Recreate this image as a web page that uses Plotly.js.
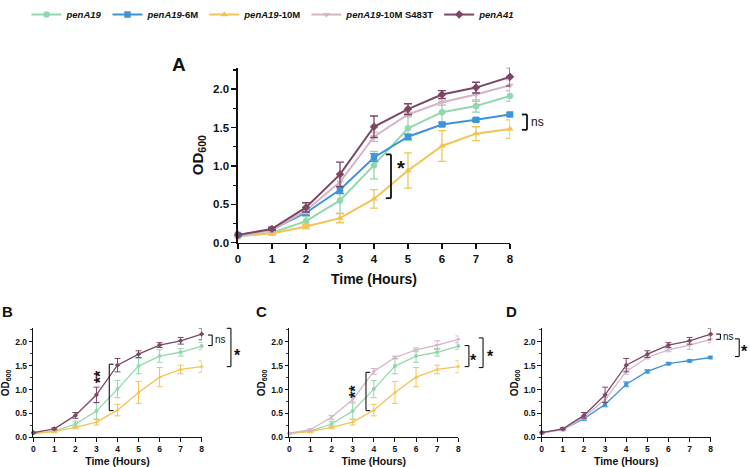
<!DOCTYPE html>
<html>
<head>
<meta charset="utf-8">
<script src="https://cdn.plot.ly/plotly-3.0.1.min.js"></script>
<style>html,body{margin:0;padding:0;background:#fff}#chart{width:750px;height:467px}</style>
</head>
<body>
<div id="chart"></div>
<script>
// ---------------- data ----------------
const hours = [0, 1, 2, 3, 4, 5, 6, 7, 8];

const penA19      = [0.08, 0.13, 0.28, 0.55, 1.01, 1.49, 1.70, 1.78, 1.91];
const penA19Err   = [0.01, 0.02, 0.06, 0.17, 0.18, 0.16, 0.13, 0.08, 0.07];

const penA19_6M    = [0.10, 0.17, 0.39, 0.69, 1.11, 1.38, 1.54, 1.60, 1.67];
const penA19_6MErr = [0.01, 0.02, 0.03, 0.05, 0.05, 0.03, 0.02, 0.02, 0.02];

const penA19_10M    = [0.09, 0.12, 0.21, 0.32, 0.57, 0.94, 1.26, 1.42, 1.48];
const penA19_10MErr = [0.01, 0.02, 0.03, 0.06, 0.12, 0.23, 0.20, 0.09, 0.12];

const penA19_S483T    = [0.09, 0.16, 0.42, 0.79, 1.38, 1.67, 1.83, 1.93, 2.05];
const penA19_S483TErr = [0.01, 0.02, 0.04, 0.05, 0.06, 0.03, 0.04, 0.09, 0.07];

const penA41    = [0.10, 0.18, 0.46, 0.89, 1.51, 1.74, 1.93, 2.02, 2.16];
const penA41Err = [0.01, 0.02, 0.06, 0.16, 0.14, 0.07, 0.05, 0.07, 0.12];

const strainKeys   = ["penA19", "penA19_6M", "penA19_10M", "penA19_S483T", "penA41"];
const strainLabels = ["<i>penA19</i>", "<i>penA19</i>-6M", "<i>penA19</i>-10M", "<i>penA19</i>-10M S483T", "<i>penA41</i>"];

const panelLetters = ["A", "B", "C", "D"];
const panelStrains = [
  ["penA19", "penA19_6M", "penA19_10M", "penA19_S483T", "penA41"],
  ["penA19", "penA19_10M", "penA41"],
  ["penA19", "penA19_10M", "penA19_S483T"],
  ["penA19_6M", "penA19_S483T", "penA41"]
];

// significance brackets: panel, x position (hours), y range, label, label position
const brackets = [
  {panel: 0, x: 4.50, y0: 0.58, y1: 1.15, dir: -1, label: "*",  lx: 4.78, ly: 1.03, rot: 0},
  {panel: 0, x: 8.50, y0: 1.47, y1: 1.67, dir: -1, label: "ns", lx: 8.80, ly: 1.57, rot: 0},
  {panel: 1, x: 3.61, y0: 0.56, y1: 1.53, dir:  1, label: "**", lx: 3.17, ly: 1.26, rot: -90},
  {panel: 1, x: 8.50, y0: 1.92, y1: 2.14, dir: -1, label: "ns", lx: 8.88, ly: 2.04, rot: 0},
  {panel: 1, x: 9.39, y0: 1.48, y1: 2.28, dir: -1, label: "*",  lx: 9.69, ly: 1.79, rot: 0},
  {panel: 2, x: 3.63, y0: 0.56, y1: 1.36, dir:  1, label: "**", lx: 3.16, ly: 0.95, rot: -90},
  {panel: 2, x: 8.50, y0: 1.48, y1: 1.92, dir: -1, label: "*",  lx: 8.72, ly: 1.69, rot: 0},
  {panel: 2, x: 9.17, y0: 1.46, y1: 2.08, dir: -1, label: "*",  lx: 9.50, ly: 1.77, rot: 0},
  {panel: 3, x: 8.46, y0: 2.05, y1: 2.16, dir: -1, label: "ns", lx: 8.84, ly: 2.11, rot: 0},
  {panel: 3, x: 9.35, y0: 1.69, y1: 2.06, dir: -1, label: "*",  lx: 9.62, ly: 1.87, rot: 0}
];

// ---------------- styling ----------------
const seriesData = {
  penA19:       {y: penA19,       err: penA19Err},
  penA19_6M:    {y: penA19_6M,    err: penA19_6MErr},
  penA19_10M:   {y: penA19_10M,   err: penA19_10MErr},
  penA19_S483T: {y: penA19_S483T, err: penA19_S483TErr},
  penA41:       {y: penA41,       err: penA41Err}
};
const style = {
  penA19:       {color: "#93d7ad", symbol: "circle"},
  penA19_6M:    {color: "#3f93d8", symbol: "square"},
  penA19_10M:   {color: "#f3c454", symbol: "triangle-up"},
  penA19_S483T: {color: "#d6b4c8", symbol: "triangle-down"},
  penA41:       {color: "#7b4765", symbol: "diamond"}
};

const FONT = "Liberation Sans, Arial, Helvetica, sans-serif";
const XMAX = 8, YMAX = 2.28;

const xDomains = [[0.3173, 0.6800], [0.0444, 0.2689], [0.3857, 0.6111], [0.7223, 0.9476]];
const yDomains = [[0.4919, 0.8758], [0.0649, 0.3041], [0.0649, 0.3041], [0.0649, 0.3041]];
const letterPos = [[0.2387, 0.882], [0.0095, 0.341], [0.349, 0.341], [0.6825, 0.341]];

const traces = [];
panelStrains.forEach((keys, p) => {
  const big = p === 0;
  const ax = p === 0 ? "" : String(p + 1);
  const order = big ? strainKeys : keys;
  order.forEach(k => {
    const i = strainKeys.indexOf(k);
    const d = seriesData[k], s = style[k];
    traces.push({
      type: "scatter", mode: "lines+markers",
      x: hours, y: d.y,
      name: strainLabels[i],
      showlegend: big,
      xaxis: "x" + ax, yaxis: "y" + ax,
      cliponaxis: false,
      line: {color: s.color, width: big ? 2 : 1.3},
      marker: {color: s.color, symbol: s.symbol, size: big ? 6.5 : 4},
      error_y: {type: "data", array: d.err, visible: true, color: s.color,
                thickness: big ? 1.3 : 1, width: big ? 4 : 3}
    });
  });
});

const layout = {
  width: 750, height: 467,
  margin: {l: 0, r: 0, t: 0, b: 0},
  paper_bgcolor: "#fff", plot_bgcolor: "rgba(0,0,0,0)",
  font: {family: FONT, color: "#111"},
  showlegend: true,
  legend: {orientation: "h", x: 0.364, xanchor: "center", y: 1.024, yanchor: "top",
           font: {family: FONT, size: 9.5, weight: "bold", color: "#111"},
           itemwidth: 30, tracegroupgap: 0, bgcolor: "rgba(0,0,0,0)"},
  shapes: [], annotations: []
};

for (let p = 0; p < 4; p++) {
  const big = p === 0;
  const ax = p === 0 ? "" : String(p + 1);
  layout["xaxis" + ax] = {
    domain: xDomains[p], range: [0, XMAX], anchor: "y" + ax, automargin: false,
    dtick: 1, tick0: 0, ticks: "outside", ticklen: big ? 5 : 3.5, tickwidth: big ? 1.5 : 1,
    tickcolor: "#111", showline: true, linecolor: "#111", linewidth: big ? 1.6 : 1,
    showgrid: false, zeroline: false,
    tickfont: {family: FONT, size: big ? 11.5 : 8.5, weight: "bold", color: "#111"},
    title: {text: "Time (Hours)", font: {family: FONT, size: big ? 14 : 10.5, weight: "bold", color: "#111"},
            standoff: big ? 10 : 4}
  };
  layout["yaxis" + ax] = {
    domain: yDomains[p], range: [0, YMAX], anchor: "x" + ax, automargin: false,
    dtick: 0.5, tick0: 0, tickformat: ".1f", ticks: "outside", ticklen: big ? 5 : 3.5, tickwidth: big ? 1.5 : 1,
    tickcolor: "#111", showline: true, linecolor: "#111", linewidth: big ? 1.6 : 1,
    showgrid: false, zeroline: false,
    minor: {dtick: 0.25, ticks: "outside", ticklen: big ? 3 : 2, tickwidth: big ? 1.2 : 0.8, tickcolor: "#111"},
    tickfont: {family: FONT, size: big ? 11.5 : 8.5, weight: "bold", color: "#111"},
    title: {text: "OD<sub>600</sub>", font: {family: FONT, size: big ? 15 : 10, weight: "bold", color: "#111"},
            standoff: big ? 6 : 3}
  };
  layout.annotations.push({
    xref: "paper", yref: "paper", x: letterPos[p][0], y: letterPos[p][1],
    xanchor: "center", yanchor: "middle", showarrow: false, text: "<b>" + panelLetters[p] + "</b>",
    font: {family: FONT, size: big ? 19 : 15, color: "#111"}
  });
}

// brackets drawn in each panel's own axis (domain-fraction) coordinates
brackets.forEach(b => {
  const big = b.panel === 0;
  const ax = b.panel === 0 ? "" : String(b.panel + 1);
  const xr = "x" + ax + " domain", yr = "y" + ax + " domain";
  const fx = v => v / XMAX, fy = v => v / YMAX;
  const tick = (big ? 0.15 : 0.2) * b.dir;
  const lw = big ? 1.8 : 1.1;
  const ln = {color: "#111", width: lw};
  layout.shapes.push(
    {type: "line", xref: xr, yref: yr, x0: fx(b.x), x1: fx(b.x), y0: fy(b.y0), y1: fy(b.y1), line: ln},
    {type: "line", xref: xr, yref: yr, x0: fx(b.x), x1: fx(b.x + tick), y0: fy(b.y0), y1: fy(b.y0), line: ln},
    {type: "line", xref: xr, yref: yr, x0: fx(b.x), x1: fx(b.x + tick), y0: fy(b.y1), y1: fy(b.y1), line: ln}
  );
  const isStar = b.label.indexOf("*") >= 0;
  layout.annotations.push({
    xref: xr, yref: yr, x: fx(b.lx), y: fy(b.ly), showarrow: false,
    text: isStar ? "<b>" + b.label + "</b>" : b.label,
    textangle: b.rot, xanchor: "center", yanchor: "middle",
    yshift: isStar && b.rot === 0 ? -4 : 0,
    font: {family: FONT, size: isStar ? (big ? 20 : 16) : (big ? 12 : 10), color: "#111"}
  });
});

Plotly.newPlot("chart", traces, layout, {displayModeBar: false, staticPlot: true});
</script>
</body>
</html>
